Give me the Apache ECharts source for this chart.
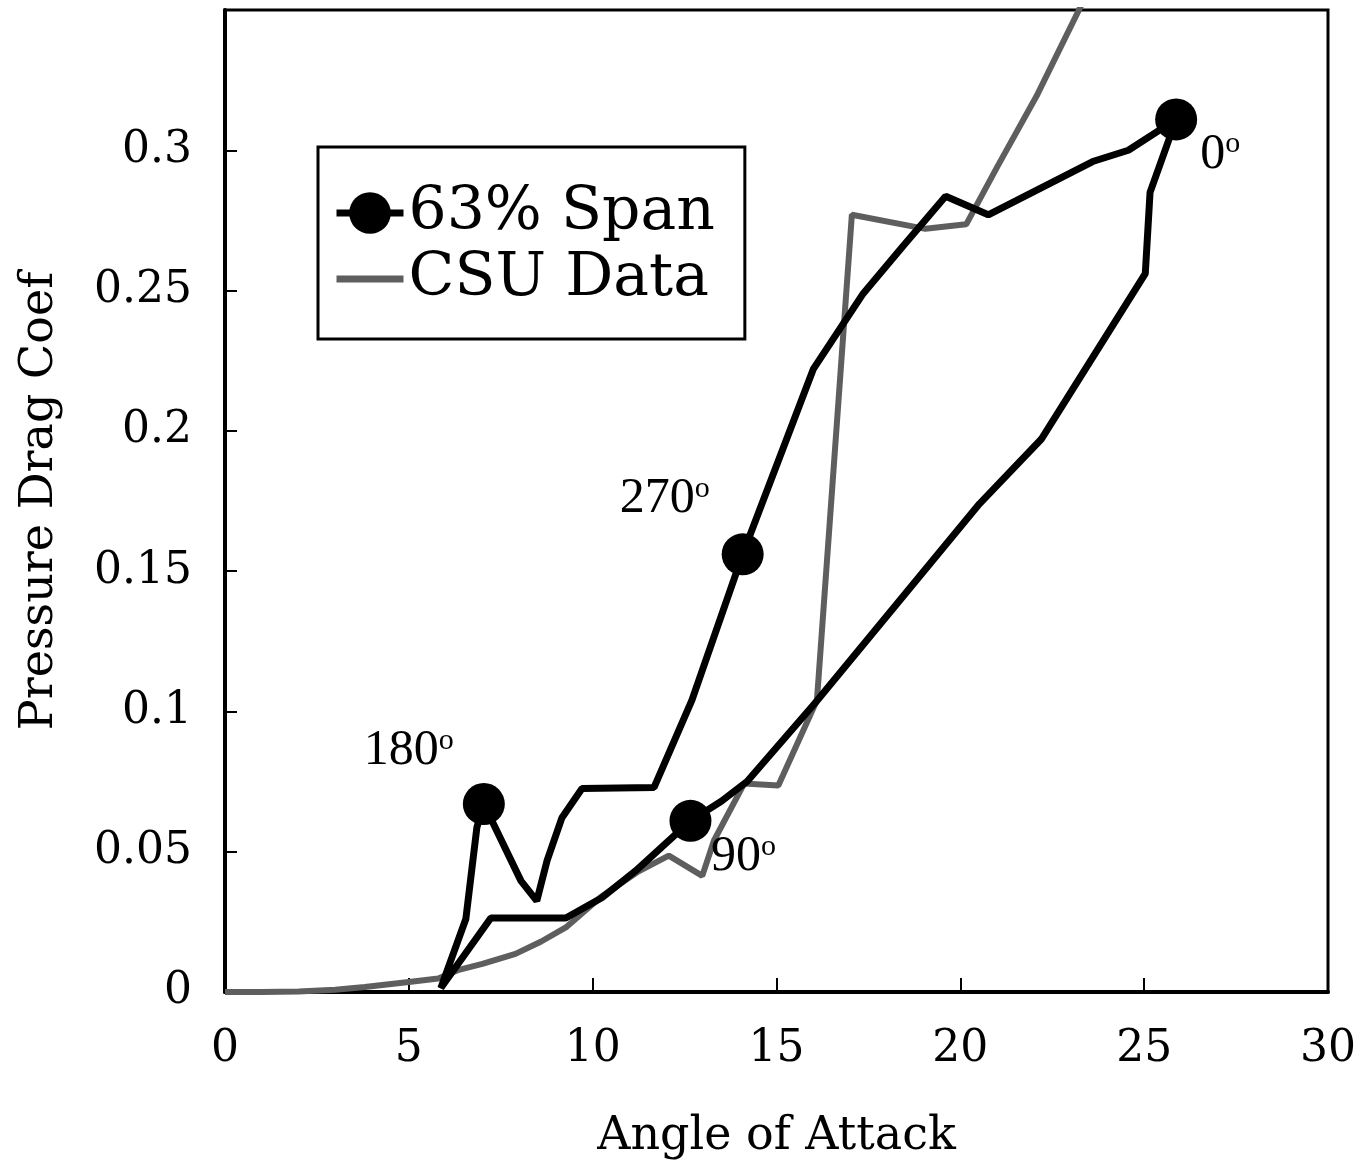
<!DOCTYPE html>
<html>
<head>
<meta charset="utf-8">
<title>Pressure Drag Coef vs Angle of Attack</title>
<script src="https://cdn.jsdelivr.net/npm/echarts@6/dist/echarts.min.js"></script>
<style>
html, body { margin: 0; padding: 0; background: #fff; }
#chart { width: 1359px; height: 1168px; }
</style>
</head>
<body>
<div id="chart"></div>
<script>
var spanAoa = [25.87, 25.16, 25.03, 22.2, 20.52, 16.05, 14.2, 13.5, 12.66, 11.17, 10.25, 9.27, 7.23, 5.87, 6.55, 6.85, 7.04,
               8.05, 8.48, 8.76, 9.16, 9.71, 11.67, 12.7, 14.08, 16.0, 17.36, 18.45, 19.6, 20.76, 23.6, 24.57, 25.87];
var spanCd  = [0.311, 0.285, 0.256, 0.197, 0.174, 0.103, 0.075, 0.068, 0.061, 0.0432, 0.0336, 0.0264, 0.0264, 0.0014, 0.026, 0.0586, 0.067,
               0.0396, 0.0325, 0.0468, 0.062, 0.0725, 0.0729, 0.104, 0.156, 0.222, 0.249, 0.266, 0.2836, 0.277, 0.296, 0.300, 0.311];
// phase angle of the marked points ('' = no marker)
var spanPhase = ['0', '', '', '', '', '', '', '', '90', '', '', '', '', '', '', '', '180',
                 '', '', '', '', '', '', '', '270', '', '', '', '', '', '', '', ''];

// CSU data
var csuAoa = [0, 1, 2, 3, 3.8, 5.0, 5.8, 6.36, 7.0, 7.9, 8.6, 9.27, 10.24, 11.25, 12.07, 12.98, 13.3,
              14.12, 15.05, 16.1, 17.05, 19.05, 20.16, 21.0, 22.1, 23.3];
var csuCd  = [0, 0, 0.0002, 0.0008, 0.0018, 0.0036, 0.0048, 0.0079, 0.010, 0.0136, 0.018, 0.023, 0.034, 0.043, 0.0486, 0.0414, 0.054,
              0.0743, 0.0736, 0.104, 0.277, 0.272, 0.2736, 0.294, 0.320, 0.352];

var seriesNames = ['63% Span', 'CSU Data'];

// where the phase labels sit, relative to their marker
var phaseLabelOffset = {
	'0': [44, 35],
	'90': [53, 36],
	'180': [-75, -53],
	'270': [-78, -55]
};

var axisFont = 'DejaVu Serif';
var noteFont = 'Liberation Serif';
var csuColor = '#5e5e5e';

var spanData = spanAoa.map(function (x, i) {
	var item = { value: [x, spanCd[i]] };
	if (spanPhase[i]) {
		item.label = {
			show: true,
			formatter: '{n|' + spanPhase[i] + '}{d|o}',
			offset: phaseLabelOffset[spanPhase[i]]
		};
	} else {
		item.symbol = 'none';
	}
	return item;
});

var csuData = csuAoa.map(function (x, i) {
	return [x, csuCd[i]];
});

var myChart = echarts.init(document.getElementById('chart'));

var option = {
	animation: false,
	backgroundColor: '#fff',
	grid: {
		left: 225,
		right: 31,
		top: 10,
		bottom: 176,
		show: true,
		borderColor: '#000',
		borderWidth: 3
	},
	legend: {
		orient: 'vertical',
		left: 318,
		top: 147,
		data: [
			{ name: seriesNames[0] },
			{ name: seriesNames[1], itemStyle: { opacity: 0 } }
		],
		itemWidth: 67,
		itemHeight: 52,
		itemGap: 0,
		padding: [33, 30, 27, 15],
		borderColor: '#000',
		borderWidth: 3,
		backgroundColor: '#fff',
		lineStyle: { width: 7 },
		textStyle: {
			fontFamily: axisFont,
			fontSize: 60,
			lineHeight: 66,
			color: '#000'
		}
	},
	xAxis: {
		type: 'value',
		min: 0,
		max: 30,
		interval: 5,
		name: 'Angle of Attack',
		nameLocation: 'middle',
		nameGap: 122,
		nameTextStyle: { fontFamily: axisFont, fontSize: 46, color: '#000' },
		axisLine: { show: true, lineStyle: { color: '#000', width: 4 } },
		axisTick: { show: true, inside: true, length: 14, lineStyle: { color: '#000', width: 2 } },
		axisLabel: { fontFamily: axisFont, fontSize: 44, color: '#000', margin: 36 },
		splitLine: { show: false }
	},
	yAxis: {
		type: 'value',
		min: 0,
		max: 0.35,
		interval: 0.05,
		name: 'Pressure Drag Coef',
		nameLocation: 'middle',
		nameRotate: 90,
		nameGap: 162,
		nameTextStyle: { fontFamily: axisFont, fontSize: 46, color: '#000' },
		axisLine: { show: true, lineStyle: { color: '#000', width: 4 } },
		axisTick: { show: true, inside: true, length: 12, lineStyle: { color: '#000', width: 2 } },
		axisLabel: {
			fontFamily: axisFont,
			fontSize: 44,
			color: '#000',
			margin: 33,
			formatter: function (v) {
				return v > 0.34 ? '' : String(+v.toFixed(2));
			}
		},
		splitLine: { show: false }
	},
	series: [
		{
			name: seriesNames[1],
			type: 'line',
			data: csuData,
			symbol: 'none',
			clip: true,
			z: 2,
			lineStyle: { color: csuColor, width: 6 },
			itemStyle: { color: csuColor }
		},
		{
			name: seriesNames[0],
			type: 'line',
			data: spanData,
			symbol: 'circle',
			symbolSize: 42,
			clip: true,
			z: 3,
			lineStyle: { color: '#000', width: 7 },
			itemStyle: { color: '#000' },
			label: {
				position: 'inside',
				color: '#000',
				rich: {
					n: { fontFamily: noteFont, fontSize: 50, color: '#000', lineHeight: 50 },
					d: { fontFamily: noteFont, fontSize: 30, color: '#000', lineHeight: 30, verticalAlign: 'top' }
				}
			}
		}
	]
};

myChart.setOption(option);
</script>
</body>
</html>
